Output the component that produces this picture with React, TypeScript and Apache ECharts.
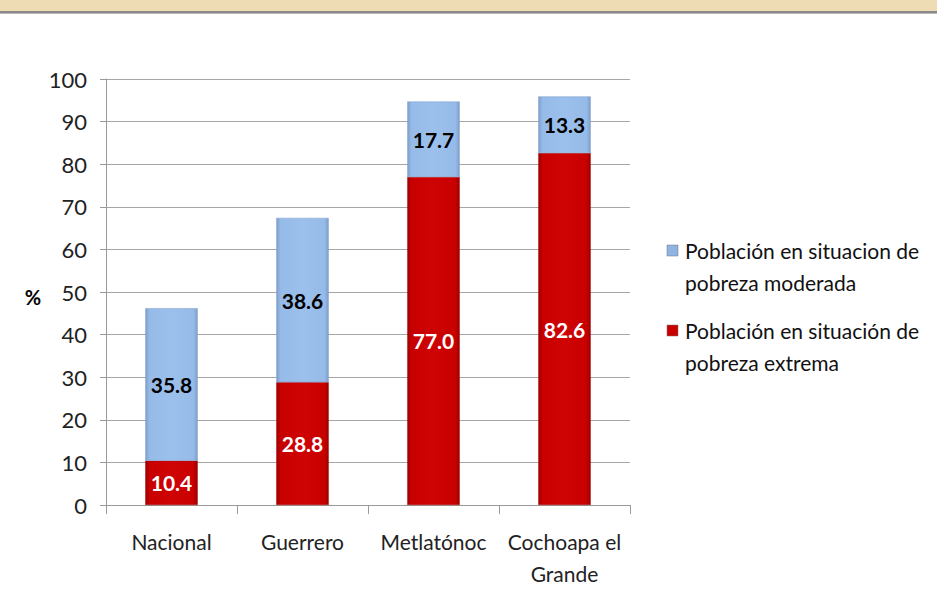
import React, { useEffect, useRef } from "react";
import * as echarts from "echarts";

const categories = ["Nacional", "Guerrero", "Metlatónoc", "Cochoapa el\nGrande"];
const extremeValues = [10.4, 28.8, 77.0, 82.6];
const moderateValues = [35.8, 38.6, 17.7, 13.3];
const extremeName = "Población en situación de pobreza extrema";
const moderateName = "Población en situacion de pobreza moderada";
const legendLines: Record<string, string[]> = {
  [moderateName]: ["Población en situacion de", "pobreza moderada"],
  [extremeName]: ["Población en situación de", "pobreza extrema"],
};
const yTicks = { min: 0, max: 100, interval: 10 };

const FONT = "Lato, 'Open Sans', sans-serif";

const redFill = new echarts.graphic.LinearGradient(0, 0, 1, 0, [
  { offset: 0, color: "#9e0000" },
  { offset: 0.08, color: "#c80000" },
  { offset: 0.5, color: "#cf0303" },
  { offset: 0.92, color: "#c80000" },
  { offset: 1, color: "#9e0000" },
]);
const blueFill = new echarts.graphic.LinearGradient(0, 0, 1, 0, [
  { offset: 0, color: "#7f9fcb" },
  { offset: 0.08, color: "#97bbe8" },
  { offset: 0.5, color: "#9cc0ec" },
  { offset: 0.92, color: "#97bbe8" },
  { offset: 1, color: "#7f9fcb" },
]);

export default function App() {
  const ref = useRef<HTMLDivElement>(null);
  useEffect(() => {
    if (!ref.current) return;
    const chart = echarts.init(ref.current, undefined, { renderer: "svg" });
    const legendItems = [
      { name: moderateName, color: "#8fb3e2", y: 250 },
      { name: extremeName, color: "#c80000", y: 330 },
    ];
    const graphics: any[] = [
      { type: "rect", shape: { x: 0, y: 0, width: 937, height: 11 }, style: { fill: "#eddcb4" }, silent: true },
      { type: "rect", shape: { x: 0, y: 11, width: 937, height: 2 }, style: { fill: "#8a8a8a" }, silent: true },
      { type: "rect", shape: { x: 0, y: 13, width: 937, height: 1 }, style: { fill: "#b8b8b8" }, silent: true },
      {
        type: "text",
        x: 33,
        y: 297,
        style: { text: "%", font: `bold 20px ${FONT}`, fill: "#000", align: "center", verticalAlign: "middle" },
      },
    ];
    legendItems.forEach((it) => {
      graphics.push({
        type: "rect",
        shape: { x: 667, y: it.y - 5, width: 11, height: 11 },
        style: { fill: it.color, stroke: "#777", lineWidth: 0.5 },
      });
      legendLines[it.name].forEach((line, i) => {
        graphics.push({
          type: "text",
          x: 685,
          y: it.y + i * 32,
          style: { text: line, font: `21px ${FONT}`, fill: "#111", verticalAlign: "middle" },
        });
      });
    });

    const labelBase = {
      show: true,
      position: "inside" as const,
      fontFamily: FONT,
      fontWeight: "bold" as const,
      fontSize: 21,
      formatter: (p: any) => Number(p.value).toFixed(1),
    };

    chart.setOption({
      animation: false,
      backgroundColor: "#fff",
      grid: { left: 106, right: 307, top: 79, bottom: 91, containLabel: false },
      xAxis: {
        type: "category",
        data: categories,
        axisLine: { lineStyle: { color: "#9a9a9a", width: 1 } },
        axisTick: { show: true, length: 9, lineStyle: { color: "#9a9a9a" } },
        axisLabel: { fontFamily: FONT, fontSize: 21, color: "#222", margin: 20, lineHeight: 32, interval: 0 },
      },
      yAxis: {
        type: "value",
        min: yTicks.min,
        max: yTicks.max,
        interval: yTicks.interval,
        axisLine: { show: true, lineStyle: { color: "#9a9a9a" } },
        axisTick: { show: true, length: 6, lineStyle: { color: "#9a9a9a" } },
        splitLine: { lineStyle: { color: "#a6a6a6", width: 1 } },
        axisLabel: { fontFamily: FONT, fontSize: 22, color: "#222", margin: 19 },
      },
      series: [
        {
          name: extremeName,
          type: "bar",
          stack: "total",
          barWidth: "40%",
          data: extremeValues,
          itemStyle: { color: redFill, borderColor: "#a00000", borderWidth: 0.5 },
          label: { ...labelBase, color: "#fff" },
        },
        {
          name: moderateName,
          type: "bar",
          stack: "total",
          barWidth: "40%",
          data: moderateValues,
          itemStyle: { color: blueFill, borderColor: "#7a9bc7", borderWidth: 0.5 },
          label: { ...labelBase, color: "#000" },
        },
      ],
      graphic: graphics,
    });
    return () => chart.dispose();
  }, []);
  return (
    <div
      ref={ref}
      style={{ position: "absolute", left: 0, top: 0, width: 937, height: 596, background: "#fff" }}
    />
  );
}
